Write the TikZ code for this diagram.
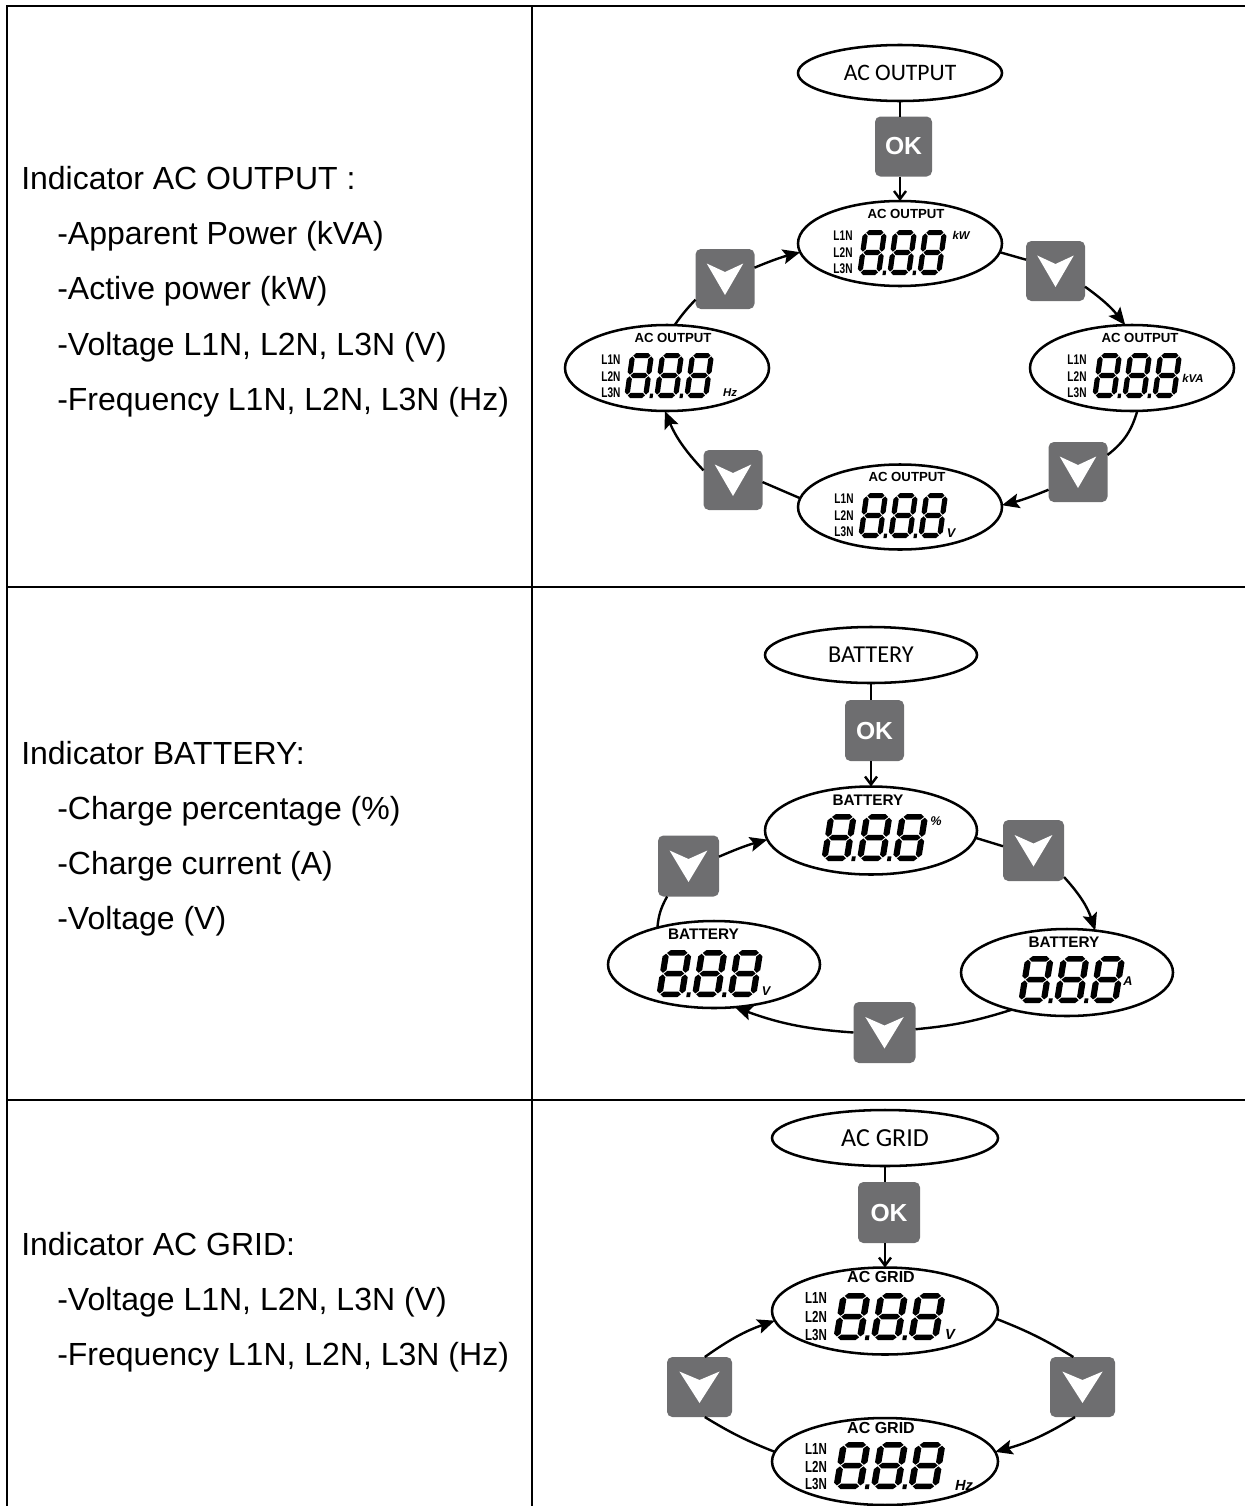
\documentclass[tikz,border=0pt]{standalone}
\usepackage{fontspec}
\usepackage{graphicx}
\setmainfont{Liberation Sans}
\newfontfamily\callout{Carlito}
\usetikzlibrary{arrows.meta,shapes.geometric}

\definecolor{btngray}{HTML}{6E6E70}

\tikzset{
  rowtext/.style={anchor=base west,inner sep=0pt,font=\fontsize{24pt}{28pt}\selectfont},
  dispshape/.style 2 args={draw,ellipse,line width=1.9pt,fill=white,inner sep=0pt,outer sep=0pt,minimum width=#1*0.75pt,minimum height=#2*0.75pt},
  lcdtitle/.style={inner sep=0pt,font=\bfseries\fontsize{#1pt}{#1pt}\selectfont},
  lnlabel/.style={inner sep=0pt,font=\bfseries\fontsize{#1pt}{#1pt}\selectfont},
  unitlabel/.style={inner sep=0pt,font=\bfseries\itshape\fontsize{#1pt}{#1pt}\selectfont},
  okbtn/.style 2 args={rectangle,rounded corners=4pt,fill=btngray,inner sep=0pt,outer sep=0pt,text=white,font=\bfseries\fontsize{18.5pt}{18.5pt}\selectfont,minimum width=#1*0.75pt,minimum height=#2*0.75pt},
  dnbtn/.style 2 args={rectangle,rounded corners=4pt,fill=btngray,inner sep=0pt,outer sep=0pt,minimum width=#1*0.75pt,minimum height=#2*0.75pt,
    path picture={\fill[white,sharp corners,shift={(path picture bounding box.center)}] (-0.31*#1,-15.5) -- (0,-7) -- (0.31*#1,-15.5) -- (0,16) -- cycle;}},
  link/.style={line width=1.8pt},
  linkto/.style={line width=1.8pt,-{Stealth[length=13pt,width=11pt,inset=2.5pt]}},
  okto/.style={line width=1.8pt,-{Straight Barb[length=6pt,width=9pt]}}
}

\newcommand{\lcdnum}[4]{
\begin{scope}[shift={(#1,#2)},xscale=#3,yscale=#4,xslant=0.14]
\foreach \d in {0,30,60}{
  \foreach \b in {-42.4,-22.5,-2.6}{
    \fill (\d+3.4,\b) -- (\d+6,\b-2.6) -- (\d+18,\b-2.6) -- (\d+20.6,\b) -- (\d+18,\b+2.6) -- (\d+6,\b+2.6) -- cycle;
  }
  \foreach \a in {2.6,21.4}{
    \foreach \b/\e in {-41.6/-23.3,-21.7/-3.4}{
      \fill (\d+\a,\b) -- (\d+\a+2.6,\b+2.6) -- (\d+\a+2.6,\e-2.6) -- (\d+\a,\e) -- (\d+\a-2.6,\e-2.6) -- (\d+\a-2.6,\b+2.6) -- cycle;
    }
  }
}
\fill (25.4,-4.4) rectangle (28.6,0);
\fill (55.4,-4.4) rectangle (58.6,0);
\end{scope}
}

\newcommand{\lnames}[5]{
\foreach \i/\g in {1/0,2/1,3/2}{
  \node[lnlabel=#5] (#1l\i) at (#2,#3+\g*#4) {\scalebox{.72}[1]{L\i N}};
}
}

\begin{document}
\begin{tikzpicture}[x=0.75pt,y=-0.75pt]
\useasboundingbox (0,0) rectangle (1245,1506);

\draw[line width=1.5pt] (1245,6) -- (7,6) -- (7,1506);
\draw[line width=1.5pt] (532,6) -- (532,1506);
\draw[line width=1.5pt] (7,587) -- (1245,587);
\draw[line width=1.5pt] (7,1100) -- (1245,1100);

\node[rowtext] (rowA0) at (21,189) {Indicator AC OUTPUT :};
\node[rowtext] (rowA1) at (57,244) {-Apparent Power (kVA)};
\node[rowtext] (rowA2) at (57,299) {-Active power (kW)};
\node[rowtext] (rowA3) at (57,355) {-Voltage L1N, L2N, L3N (V)};
\node[rowtext] (rowA4) at (57,410) {-Frequency L1N, L2N, L3N (Hz)};

\node[rowtext] (rowB0) at (21,764) {Indicator BATTERY:};
\node[rowtext] (rowB1) at (57,819) {-Charge percentage (\%)};
\node[rowtext] (rowB2) at (57,874) {-Charge current (A)};
\node[rowtext] (rowB3) at (57,929) {-Voltage (V)};

\node[rowtext] (rowC0) at (21,1255) {Indicator AC GRID:};
\node[rowtext] (rowC1) at (57,1310) {-Voltage L1N, L2N, L3N (V)};
\node[rowtext] (rowC2) at (57,1365) {-Frequency L1N, L2N, L3N (Hz)};

\node[dispshape={204}{56},font=\callout\fontsize{17.7pt}{17.7pt}\selectfont] (headA) at (900,73) {\raisebox{-.7pt}{AC OUTPUT}};
\node[okbtn={57}{60}] (okA) at (903.5,146.5) {OK};
\node[dispshape={204}{85}] (dispA1) at (900,243.5) {};
\node[dispshape={204}{86}] (dispA2) at (1132,368) {};
\node[dispshape={204}{85}] (dispA3) at (900,507) {};
\node[dispshape={204}{86}] (dispA4) at (667,368) {};
\node[dnbtn={59}{60}] (btnA1) at (1055.5,271) {};
\node[dnbtn={59}{60}] (btnA2) at (1078,472) {};
\node[dnbtn={59}{60}] (btnA3) at (733,480) {};
\node[dnbtn={59}{60}] (btnA4) at (725,279) {};

\draw[link] (headA.south) -- (headA.south |- okA.north);
\draw[okto] (okA.south -| dispA1.north) -- (dispA1.north);
\draw[link] (dispA1.-5) -- (btnA1.159);
\draw[linkto] (btnA1.-28) to[bend left=8] (dispA2.99);
\draw[link] (dispA2.-83) to[bend left=18] (btnA2.30);
\draw[linkto] (btnA2.211) to[bend left=4] (dispA3.1);
\draw[link] (dispA3.175) -- (btnA3.-4);
\draw[linkto] (btnA3.162) to[bend left=10] (dispA4.-93);
\draw[link] (dispA4.80) to[bend left=4] (btnA4.215);
\draw[linkto] (btnA4.21) to[bend left=4] (dispA1.185);

\node[lcdtitle=9.9] (titleA1) at (906,214) {AC OUTPUT};
\lnames{dispA1}{843}{236}{16.5}{10.5}
\lcdnum{857}{275}{1}{1}
\node[unitlabel=8.5] (unitA1) at (961,235) {kW};

\node[lcdtitle=9.9] (titleA2) at (1140,338) {AC OUTPUT};
\lnames{dispA2}{1077}{360}{16.5}{10.5}
\lcdnum{1092}{398}{1}{1}
\node[unitlabel=8.5] (unitA2) at (1193,378) {kVA};

\node[lcdtitle=9.9] (titleA3) at (907,477) {AC OUTPUT};
\lnames{dispA3}{844}{499}{16.5}{10.5}
\lcdnum{858}{538}{1}{1}
\node[unitlabel=9.5] (unitA3) at (951,533) {V};

\node[lcdtitle=9.9] (titleA4) at (673,338) {AC OUTPUT};
\lnames{dispA4}{611}{360}{16.5}{10.5}
\lcdnum{624}{398}{1}{1}
\node[unitlabel=8.5] (unitA4) at (730,393) {Hz};

\node[dispshape={212}{56},font=\callout\fontsize{18.2pt}{18.2pt}\selectfont] (headB) at (871,655) {\raisebox{-1pt}{BATTERY}};
\node[okbtn={59}{61}] (okB) at (874.5,730.5) {OK};
\node[dispshape={212}{88}] (dispB1) at (871,830.5) {};
\node[dispshape={212}{87}] (dispB2) at (1067,972.5) {};
\node[dispshape={212}{87}] (dispB3) at (714,964.5) {};
\node[dnbtn={61}{61}] (btnB1) at (1033.5,850.5) {};
\node[dnbtn={62}{61}] (btnB2) at (884.5,1032.5) {};
\node[dnbtn={61}{61}] (btnB3) at (688.5,866) {};

\draw[link] (headB.south) -- (headB.south |- okB.north);
\draw[okto] (okB.south -| dispB1.north) -- (dispB1.north);
\draw[link] (dispB1.-4) -- (btnB1.172);
\draw[linkto] (btnB1.-41) to[bend left=12] (dispB2.56);
\draw[link] (dispB2.214) to[bend left=6] (btnB2.6);
\draw[linkto] (btnB2.180) to[bend left=8] (dispB3.-64);
\draw[link] (dispB3.147) to[bend left=12] (btnB3.235);
\draw[linkto] (btnB3.17) to[bend left=4] (dispB1.185);

\node[lcdtitle=11.5] (titleB1) at (868,800) {BATTERY};
\lcdnum{821}{861}{1.19}{1.04}
\node[unitlabel=9.5] (unitB1) at (936,821) {\%};

\node[lcdtitle=11.5] (titleB2) at (1064,942) {BATTERY};
\lcdnum{1018}{1003}{1.19}{1.04}
\node[unitlabel=9.5] (unitB2) at (1128,981) {A};

\node[lcdtitle=11.5] (titleB3) at (703.5,934) {BATTERY};
\lcdnum{656}{997}{1.19}{1.04}
\node[unitlabel=9.5] (unitB3) at (766,991) {V};

\node[dispshape={226}{56},font=\callout\fontsize{19.5pt}{19.5pt}\selectfont] (headC) at (885,1138) {AC GRID};
\node[okbtn={62}{61}] (okC) at (889,1212.5) {OK};
\node[dispshape={226}{87}] (dispC1) at (885,1311) {};
\node[dispshape={226}{87}] (dispC2) at (885,1461.5) {};
\node[dnbtn={65}{60}] (btnC1) at (1082.5,1387) {};
\node[dnbtn={65}{60}] (btnC2) at (699.5,1387) {};

\draw[link] (headC.south -| dispC1.north) -- (dispC1.north |- okC.north);
\draw[okto] (okC.south -| dispC1.north) -- (dispC1.north);
\draw[link] (dispC1.-4.5) to[bend left=5] (btnC1.107);
\draw[linkto] (btnC1.256) to[bend left=8] (dispC2.5);
\draw[link] (dispC2.175) to[bend left=5] (btnC2.-80);
\draw[linkto] (btnC2.80) to[bend left=8] (dispC1.185);

\node[lcdtitle=12] (titleC1) at (881,1277) {AC GRID};
\lnames{dispC1}{816}{1298}{18.5}{12}
\lcdnum{833}{1340}{1.25}{1.04}
\node[unitlabel=11] (unitC1) at (950,1334) {V};

\node[lcdtitle=12] (titleC2) at (881,1428) {AC GRID};
\lnames{dispC2}{816}{1449}{17.5}{12}
\lcdnum{833}{1489}{1.25}{1.04}
\node[unitlabel=11] (unitC2) at (964,1485) {Hz};
\end{tikzpicture}
\end{document}
